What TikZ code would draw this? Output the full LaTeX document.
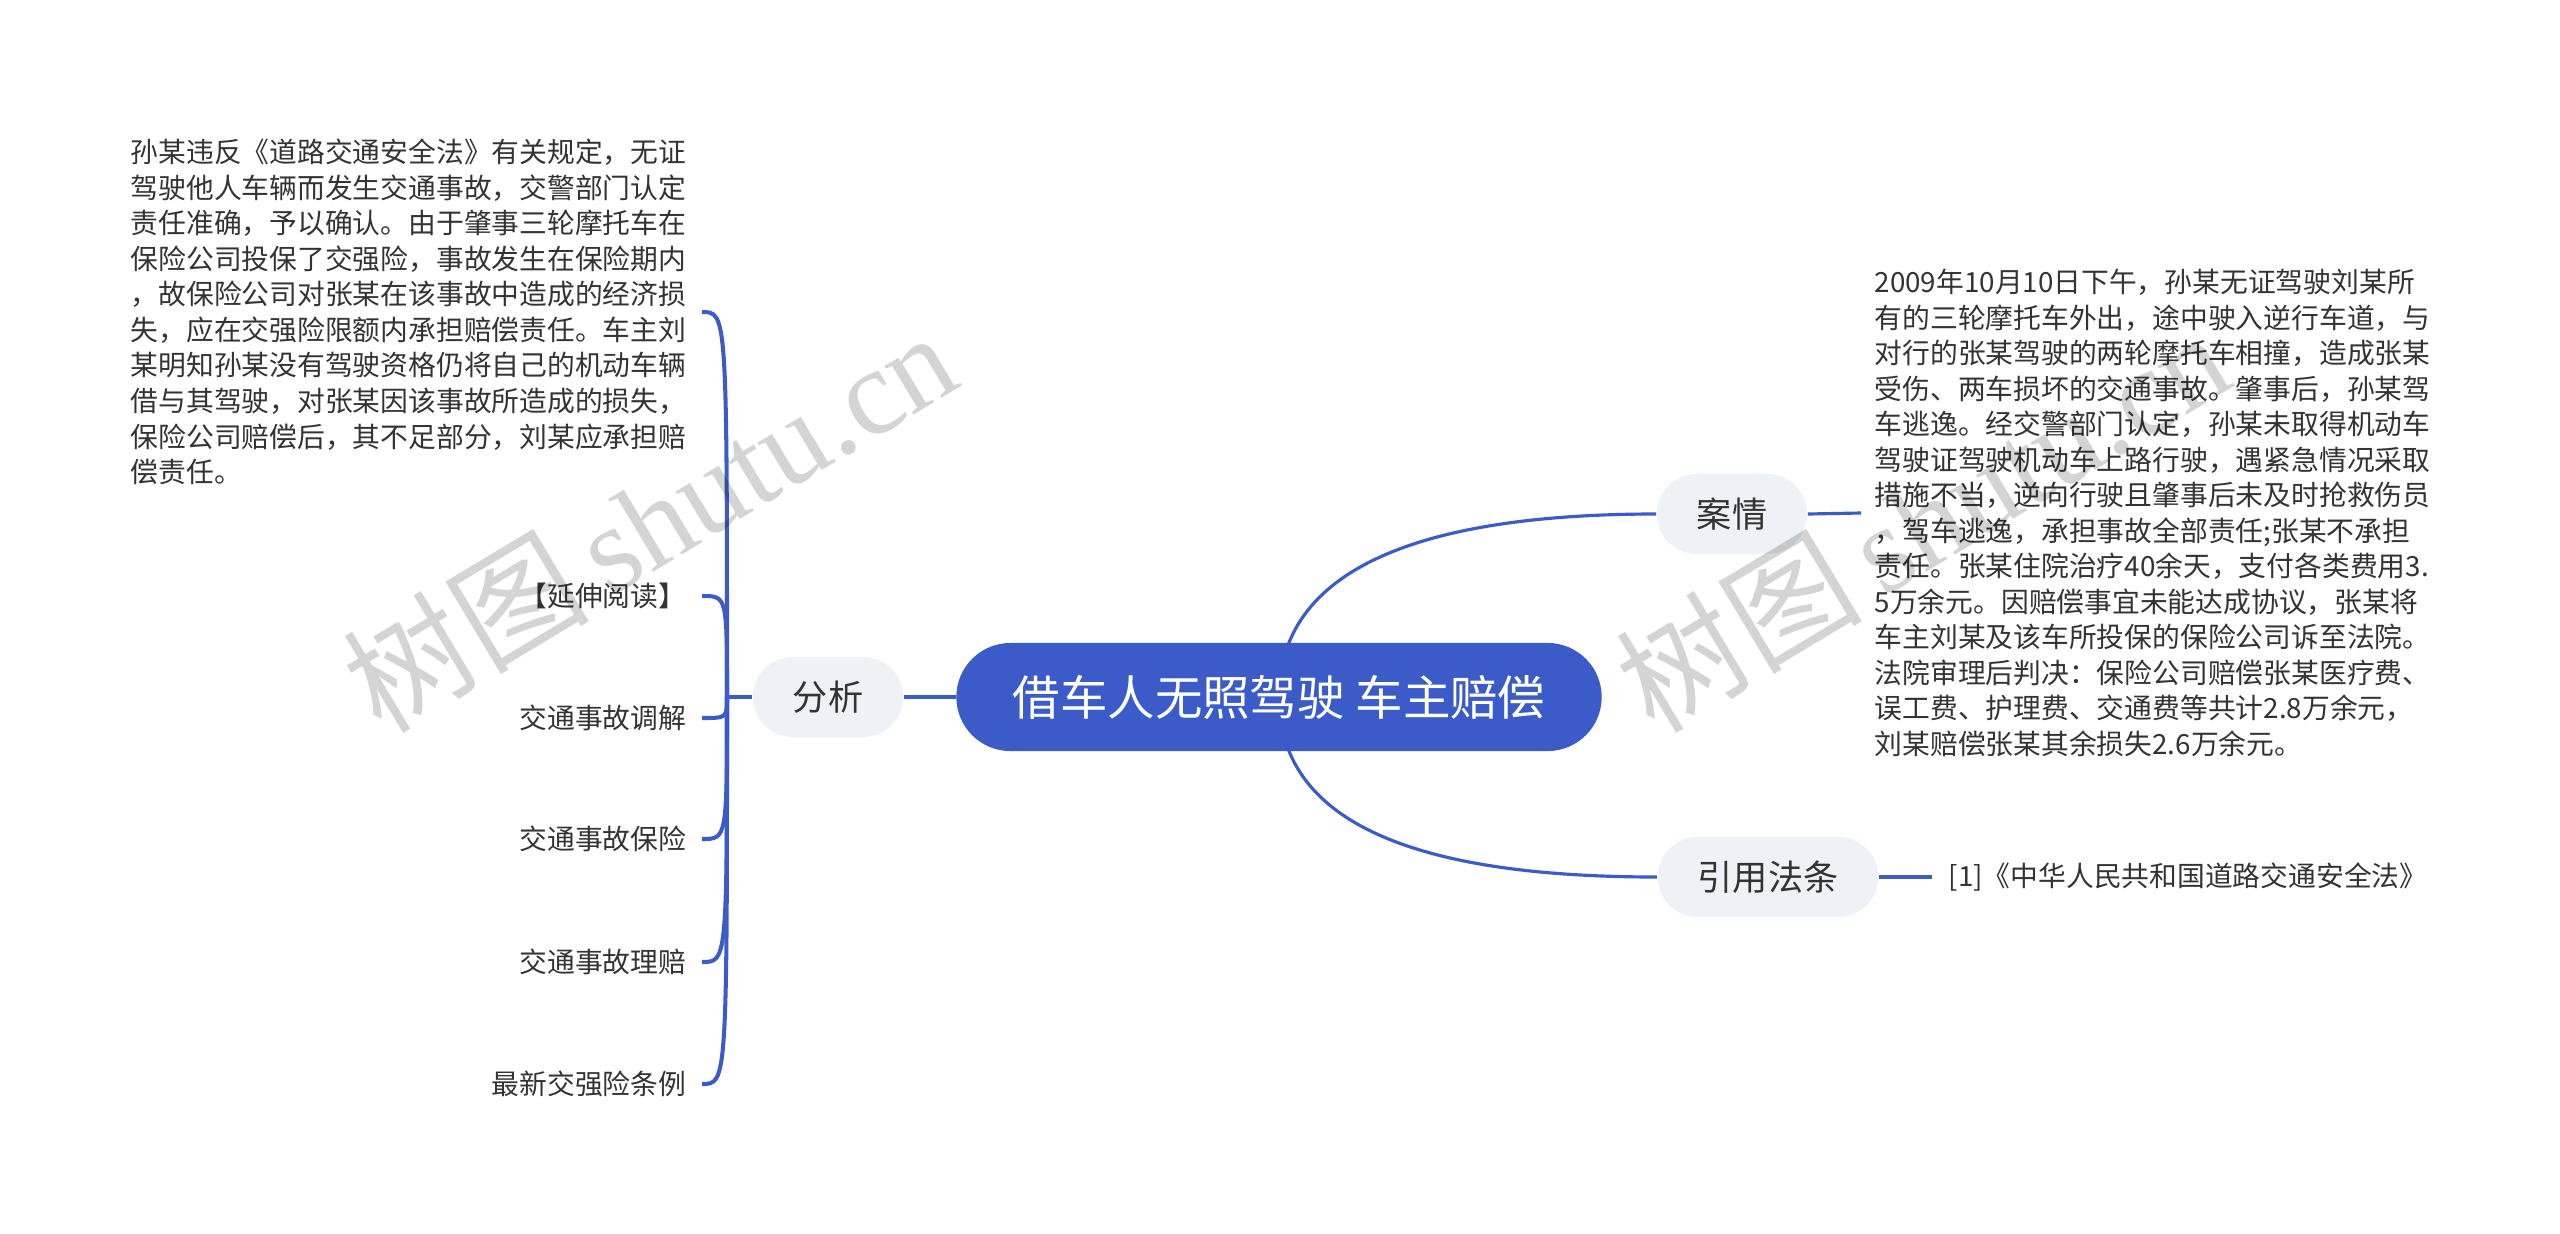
\documentclass[tikz,border=0pt]{standalone}
\usepackage{fontspec}
\setmainfont{Noto Sans CJK SC}
\newfontfamily\markfont{Liberation Serif}
\usepackage{tikz}
\usetikzlibrary{positioning,backgrounds}
\definecolor{mapblue}{HTML}{3B5BC8}
\definecolor{topicgray}{HTML}{EEF1F5}
\definecolor{inkgray}{HTML}{333333}

\begin{document}
\begin{tikzpicture}[x=0.01cm, y=-0.01cm,
    root/.style={rectangle, rounded corners=0.54cm, fill=mapblue, text=white, minimum width=6.45cm, minimum height=1.08cm, font=\fontsize{13.5}{16}\selectfont},
    topic/.style={rectangle, rounded corners=0.4cm, fill=topicgray, text=inkgray, minimum height=0.8cm, inner xsep=0.4cm, font=\fontsize{10}{12}\selectfont},
    leaf/.style={text=inkgray, align=left, inner xsep=0.15cm, font=\fontsize{7.9}{10.1}\selectfont},
    link/.style={draw=mapblue, line width=0.9pt},
    brace/.style={link, line width=1.15pt}
]
    \useasboundingbox (0,0) rectangle (2560,1233);

    % Root and main topics
    \node[root] (root) at (1279,697) {借车人无照驾驶 车主赔偿};
    \node[topic] (analysis) at (828,697) {分析};
    \node[topic] (case) at (1732,514) {案情};
    \node[topic] (law) at (1768,877) {引用法条};
    \coordinate (hub) at (727,697);

    % Left leaves
    \node[leaf, anchor=east] (opinion) at (702,312) {孙某违反《道路交通安全法》有关规定，无证\\驾驶他人车辆而发生交通事故，交警部门认定\\责任准确，予以确认。由于肇事三轮摩托车在\\保险公司投保了交强险，事故发生在保险期内\\，故保险公司对张某在该事故中造成的经济损\\失，应在交强险限额内承担赔偿责任。车主刘\\某明知孙某没有驾驶资格仍将自己的机动车辆\\借与其驾驶，对张某因该事故所造成的损失，\\保险公司赔偿后，其不足部分，刘某应承担赔\\偿责任。};
    \node[leaf, anchor=east] (more) at (702,596) {【延伸阅读】};
    \node[leaf, anchor=east] (mediate) at (702,718) {交通事故调解};
    \node[leaf, anchor=east] (insure) at (702,839) {交通事故保险};
    \node[leaf, anchor=east] (claim) at (702,962) {交通事故理赔};
    \node[leaf, anchor=east] (rules) at (702,1084) {最新交强险条例};

    % Right leaves
    \node[leaf, anchor=west, inner xsep=0.13cm] (facts) at (1861,513) {2009年10月10日下午，孙某无证驾驶刘某所\\有的三轮摩托车外出，途中驶入逆行车道，与\\对行的张某驾驶的两轮摩托车相撞，造成张某\\受伤、两车损坏的交通事故。肇事后，孙某驾\\车逃逸。经交警部门认定，孙某未取得机动车\\驾驶证驾驶机动车上路行驶，遇紧急情况采取\\措施不当，逆向行驶且肇事后未及时抢救伤员\\，驾车逃逸，承担事故全部责任;张某不承担\\责任。张某住院治疗40余天，支付各类费用3.\\5万余元。因赔偿事宜未能达成协议，张某将\\车主刘某及该车所投保的保险公司诉至法院。\\法院审理后判决：保险公司赔偿张某医疗费、\\误工费、护理费、交通费等共计2.8万余元，\\刘某赔偿张某其余损失2.6万余元。};
    \node[leaf, anchor=west, inner xsep=0.16cm] (statute) at (1932,877) {[1]《中华人民共和国道路交通安全法》};

    % Connectors
    \begin{scope}[on background layer]
        \fill[white] (0,0) rectangle (2560,1233);
        \draw[link] (root.center) .. controls +(0,-137) and +(-216,0) .. (case.west);
        \draw[link] (root.center) .. controls +(0,137) and +(-216,0) .. (law.west);
        \draw[link] (root.west) -- (analysis.east);
        \draw[brace] (analysis.west) -- (hub);
        \draw[link] (case.east) -- (facts.west);
        \draw[link] (law.east) -- (statute.west);
        \foreach \leafname in {opinion,more,mediate,insure,claim,rules}
            \draw[brace] (hub) .. controls (hub |- \leafname.east) and (hub |- \leafname.east) .. (\leafname.east);
    \end{scope}

    % Watermarks
    \node[rotate=31, text=black, text opacity=0.17, font=\fontsize{35}{40}\selectfont] (mark1) at (649,520) {树图\,{\markfont shutu.cn}};
    \node[rotate=31, text=black, text opacity=0.17, font=\fontsize{35}{40}\selectfont] (mark2) at (1922,520) {树图\,{\markfont shutu.cn}};
\end{tikzpicture}
\end{document}
